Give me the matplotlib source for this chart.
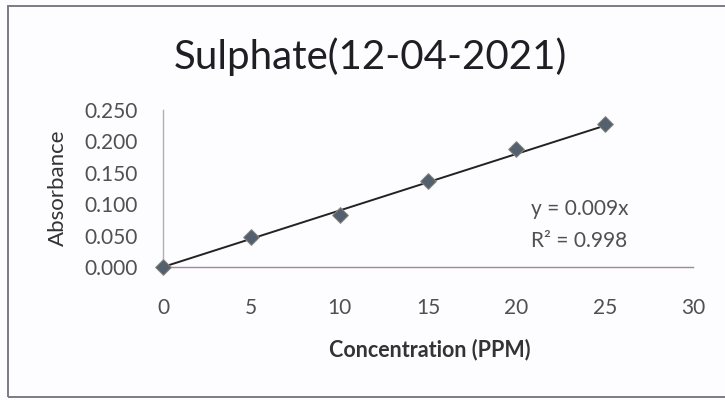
import matplotlib
matplotlib.use("Agg")
import matplotlib.pyplot as plt
from matplotlib.patches import Rectangle
import numpy as np

# Data
concentration = [0, 5, 10, 15, 20, 25]
absorbance = [0.000, 0.047, 0.083, 0.137, 0.188, 0.228]
slope = 0.009
r_squared = 0.998
x_ticks = [0, 5, 10, 15, 20, 25, 30]
y_ticks = [0.000, 0.050, 0.100, 0.150, 0.200, 0.250]
title = "Sulphate(12-04-2021)"

plt.rcParams['font.family'] = ['Lato', 'DejaVu Sans']

fig = plt.figure(figsize=(7.25, 4.0), dpi=100)
fig.patch.set_facecolor('#fdfcfe')

# chart frame
fig.patches.append(Rectangle((8/725, 3/400), 1.2, 391/400, transform=fig.transFigure,
                             fill=False, edgecolor='#7a7a88', linewidth=1.4))

ax = fig.add_axes([163/725, 1-267/400, 530/725, 157/400])
ax.set_facecolor('none')
ax.set_xlim(0, 30)
ax.set_ylim(0, 0.25)

xs = np.array([0, max(concentration)])
ax.plot(xs, slope*xs, color='#222222', linewidth=1.4, zorder=2, clip_on=False)
ax.scatter(concentration, absorbance, marker='D', s=65, color='#55606e',
           edgecolors='#8a8a80', linewidths=0.7, zorder=3, clip_on=False)

ax.set_xticks(x_ticks)
ax.set_xticklabels([str(t) for t in x_ticks])
ax.set_yticks(y_ticks)
ax.set_yticklabels([f"{t:.3f}" for t in y_ticks])
ax.tick_params(axis='both', length=0, labelsize=15, colors='#505050')
ax.tick_params(axis='x', pad=22)
ax.tick_params(axis='y', pad=18)

for s in ['top', 'right']:
    ax.spines[s].set_visible(False)
ax.spines['left'].set_color('#b0b0b8')
ax.spines['bottom'].set_color('#9a8a9a')
ax.spines['left'].set_linewidth(1.0)
ax.spines['bottom'].set_linewidth(1.0)

fig.text(370/725, 1-57/400, title, ha='center', va='center', fontsize=29, color='#1e1e24')
fig.text(430/725, 1-350/400, "Concentration (PPM)", ha='center', va='center',
         fontsize=15.5, fontweight='bold', color='#333333')
fig.text(58/725, 1-188/400, "Absorbance", ha='center', va='center', rotation=90,
         fontsize=16, color='#333333')

fig.text(531/725, 1-209/400, f"y = {slope}x", ha='left', va='center', fontsize=15, color='#505050')
fig.text(531/725, 1-241/400, f"R\u00b2 = {r_squared}", ha='left', va='center', fontsize=15, color='#505050')

fig.savefig("out.png", dpi=100, facecolor=fig.get_facecolor())
